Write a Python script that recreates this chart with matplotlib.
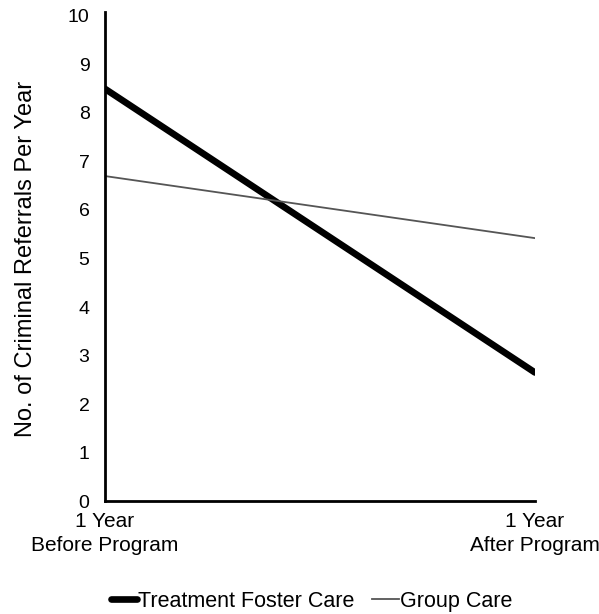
import numpy as np
import matplotlib
matplotlib.use("Agg")
import matplotlib.pyplot as plt

plt.rcParams['font.family'] = ['Liberation Sans', 'DejaVu Sans']

# data
periods = ["1 Year\nBefore Program", "1 Year\nAfter Program"]
treatment_foster = [8.5, 2.65]
group_care = [6.7, 5.42]
y_ticks = list(range(0, 11))

fig = plt.figure(figsize=(5.99, 6.14), dpi=100)
ax = fig.add_axes([0.175, 0.184, 0.718, 0.79])

x = np.arange(len(periods))
ax.plot(x, treatment_foster, color='black', linewidth=4.8, solid_capstyle='round',
        label='Treatment Foster Care')
ax.plot(x, group_care, color='#555555', linewidth=1.3, label='Group Care')

ax.set_xlim(0, 1)
ax.set_ylim(0, 10)
ax.set_yticks(y_ticks)
ax.set_xticks(x)
ax.set_xticklabels(periods, fontsize=15, linespacing=1.3)
ax.tick_params(axis='y', length=0, labelsize=14, pad=11)
ax.tick_params(axis='x', length=0, pad=8)

for s in ['top', 'right']:
    ax.spines[s].set_visible(False)
for s in ['left', 'bottom']:
    ax.spines[s].set_linewidth(2)
ax.spines['left'].set_bounds(0, 10.08)

ax.set_ylabel("No. of Criminal Referrals Per Year", fontsize=17, labelpad=22)

fig.legend(loc='center', bbox_to_anchor=(0.52, 0.021), ncol=2, frameon=False,
           fontsize=15.5, handlelength=1.25, handletextpad=0.05, columnspacing=0.8)

fig.savefig("out.png", dpi=100)
